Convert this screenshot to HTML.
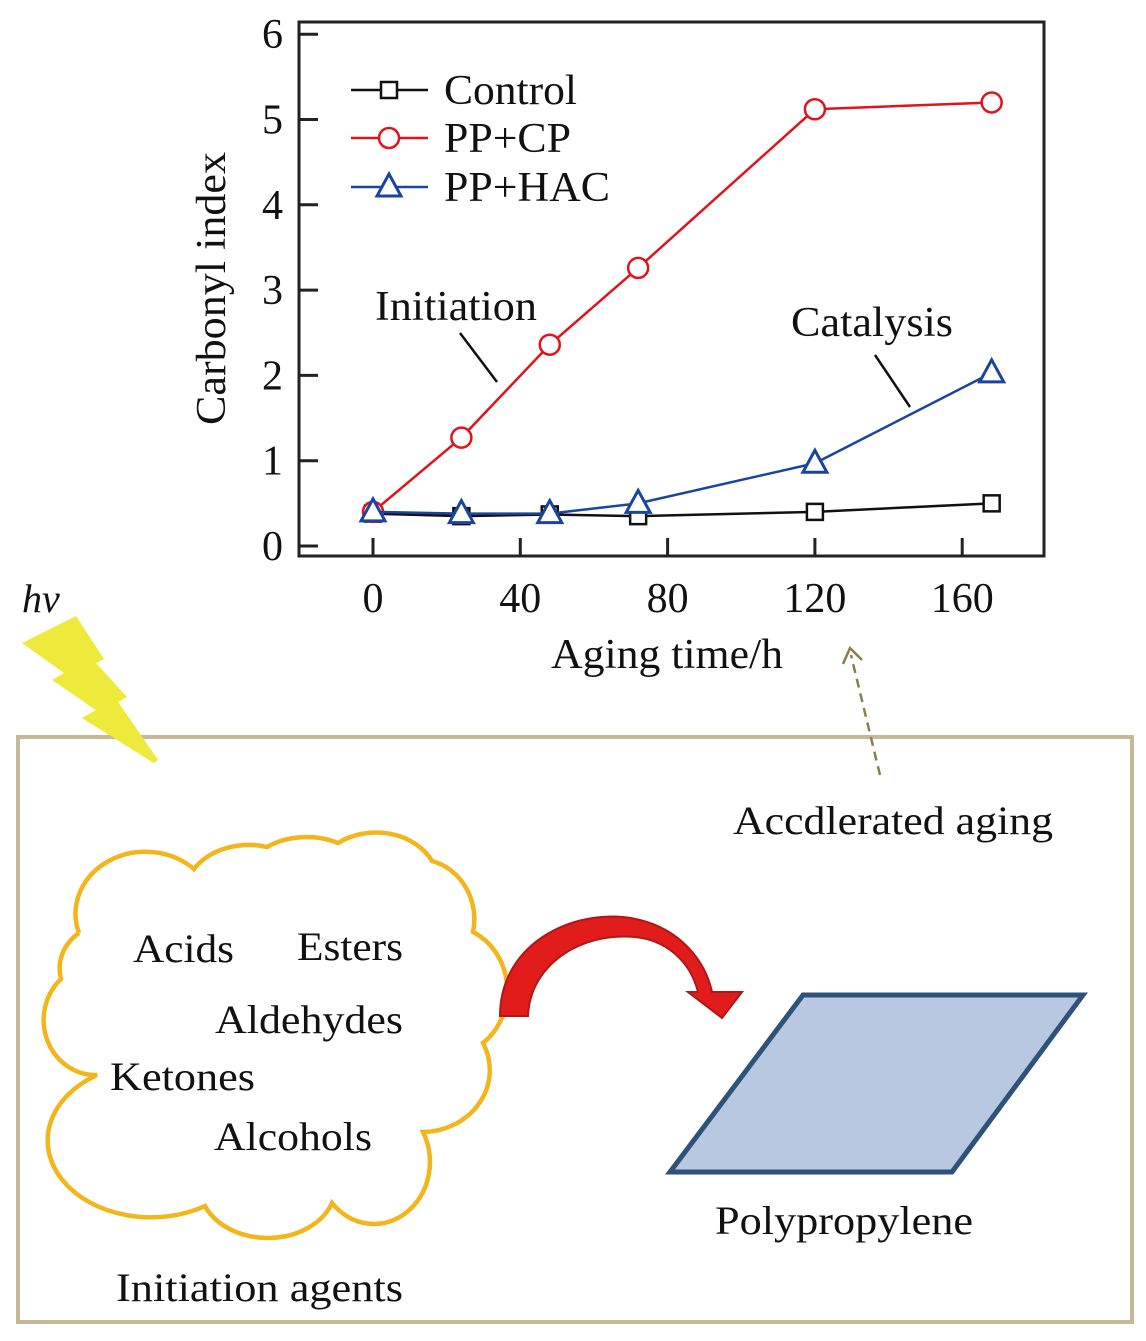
<!DOCTYPE html>
<html><head><meta charset="utf-8"><style>
body{margin:0;background:#fff}
svg text{font-family:"Liberation Serif",serif;fill:#111}
</style></head><body>
<svg width="1146" height="1336" viewBox="0 0 1146 1336" xmlns="http://www.w3.org/2000/svg">
<g id="chart"></g>
<polygon fill="#eeea3c" points="22,643 76,616 104,659 96,663 127,697 118,702 158,760 154,763 82,718 96,710 52,680 64,673"/>
<text x="22" y="612" font-size="40" font-style="italic">hv</text>
<rect x="18" y="737" width="1114" height="585" fill="none" stroke="#c4b994" stroke-width="4"/>
<polygon fill="#eeea3c" points="88,705 127,697 118,702 158,760 154,763 82,718 96,710"/>
<path fill="none" stroke="#f2b51c" stroke-width="4.5" d="M79,890 A70,62 0 0 1 194,826 A64,50 0 0 1 267,804 A60,40 0 0 1 338,800 A62,50 0 0 1 432,818 A56,60 0 0 1 473,889 A60,65 0 0 1 483,1000 A68,62 0 0 1 423,1089 A56,62 0 0 1 332,1160 A68,52 0 0 1 205,1163 A78,58 0 0 1 97,1032 A52,55 0 0 1 61,936 A50,45 0 0 1 79,890" transform="translate(0,43)"/>
<text x="133" y="962" font-size="40" textLength="101" lengthAdjust="spacingAndGlyphs">Acids</text>
<text x="297" y="960" font-size="40" textLength="106" lengthAdjust="spacingAndGlyphs">Esters</text>
<text x="215" y="1033" font-size="40" textLength="188" lengthAdjust="spacingAndGlyphs">Aldehydes</text>
<text x="110" y="1090" font-size="40" textLength="145" lengthAdjust="spacingAndGlyphs">Ketones</text>
<text x="214" y="1150" font-size="40" textLength="158" lengthAdjust="spacingAndGlyphs">Alcohols</text>
<text x="116" y="1301" font-size="40" textLength="287" lengthAdjust="spacingAndGlyphs">Initiation agents</text>
<path fill="#e21b1b" stroke="#b01818" stroke-width="2" d="M500,1016 C500,940 580,905 640,920 C680,930 705,960 712,992 L742,992 L722,1018 L688,992 L698,992 C690,960 665,940 635,937 C580,932 530,965 528,1016 Z"/>
<polygon fill="#b7c8e0" stroke="#2f5279" stroke-width="5" points="803,995 1083,995 952,1172 670,1172"/>
<text x="715" y="1234" font-size="40" textLength="258" lengthAdjust="spacingAndGlyphs">Polypropylene</text>
<line x1="880" y1="775" x2="851" y2="655" stroke="#8a7f4a" stroke-width="2.5" stroke-dasharray="9,6"/>
<polyline points="843,664 850,648 862,660" fill="none" stroke="#8a7f4a" stroke-width="2.5"/>
<text x="733" y="834" font-size="40" textLength="320" lengthAdjust="spacingAndGlyphs">Accdlerated aging</text>
</svg>
<script>
const hours = [0, 24, 48, 72, 120, 168];
const controlValues = [0.38, 0.35, 0.37, 0.35, 0.40, 0.50];
const cpValues = [0.40, 1.27, 2.36, 3.26, 5.12, 5.20];
const hacValues = [0.40, 0.38, 0.38, 0.50, 0.97, 2.03];
const xTicks = [0, 40, 80, 120, 160];
const yTicks = [0, 1, 2, 3, 4, 5, 6];

const NS = 'http://www.w3.org/2000/svg';
const g = document.getElementById('chart');
const X = h => 373 + (h / 40) * 147.3;
const Y = v => 546 - v * 85.3;
function mk(tag, attrs, parent) {
  const e = document.createElementNS(NS, tag);
  for (const k in attrs) e.setAttribute(k, attrs[k]);
  (parent || g).appendChild(e);
  return e;
}
let e = mk('rect', {x: 299, y: 22, width: 745, height: 534, fill: 'none', stroke: '#222', 'stroke-width': 3});


yTicks.forEach(v => {
  let t = mk('line', {x1: 299, x2: 318, y1: Y(v), y2: Y(v), stroke: '#222', 'stroke-width': 3});
  
  
  let l = mk('text', {x: 283, y: Y(v) + 14, 'font-size': 42, 'text-anchor': 'end'});
  l.textContent = v;
  
  
});
xTicks.forEach(v => {
  let t = mk('line', {x1: X(v), x2: X(v), y1: 556, y2: 538, stroke: '#222', 'stroke-width': 3});
  
  
  let l = mk('text', {x: X(v), y: 612, 'font-size': 42, 'text-anchor': 'middle'});
  l.textContent = v;
  
  
});
let xt = mk('text', {x: 551, y: 668, 'font-size': 42, textLength: 232, lengthAdjust: 'spacingAndGlyphs'});
xt.textContent = 'Aging time/h';


let yt = mk('text', {x: 0, y: 0, 'font-size': 42, textLength: 273, lengthAdjust: 'spacingAndGlyphs', transform: 'translate(225,425) rotate(-90)'});
yt.textContent = 'Carbonyl index';



function marker(type, cx, cy, color, parent) {
  let m;
  if (type === 'sq') m = mk('rect', {x: cx - 8, y: cy - 8, width: 16, height: 16, fill: '#fff', stroke: color, 'stroke-width': 2.5}, parent);
  else if (type === 'ci') m = mk('circle', {cx: cx, cy: cy, r: 10, fill: '#fff', stroke: color, 'stroke-width': 2.5}, parent);
  else m = mk('polygon', {points: `${cx},${cy - 13} ${cx - 12},${cy + 9} ${cx + 12},${cy + 9}`, fill: '#fff', stroke: color, 'stroke-width': 3}, parent);
  
  
  return m;
}
function series(vals, color, type, name) {
  const sg = mk('g', {});
  
  
  let p = mk('polyline', {points: vals.map((v, i) => X(hours[i]) + ',' + Y(v)).join(' '), fill: 'none', stroke: color, 'stroke-width': 2.5}, sg);
  
  
  vals.forEach((v, i) => marker(type, X(hours[i]), Y(v), color, sg));
}
series(controlValues, '#111', 'sq', 'control-series');
series(cpValues, '#e0141b', 'ci', 'pp-cp-series');
series(hacValues, '#1a44a0', 'tr', 'pp-hac-series');

const legend = [['Control', '#111', 'sq', 90, 133], ['PP+CP', '#e0141b', 'ci', 138, 127], ['PP+HAC', '#1a44a0', 'tr', 187, 166]];
legend.forEach(([lab, c, t, y, w]) => {
  const lg = mk('g', {});
  
  
  mk('line', {x1: 351, x2: 428, y1: y, y2: y, stroke: c, 'stroke-width': 2.5}, lg);
  marker(t, 389, y, c, lg);
  let tx = mk('text', {x: 444, y: y + 14, 'font-size': 42, textLength: w, lengthAdjust: 'spacingAndGlyphs'}, lg);
  tx.textContent = lab;
});
let a1 = mk('text', {x: 375, y: 320, 'font-size': 42, textLength: 162, lengthAdjust: 'spacingAndGlyphs'});
a1.textContent = 'Initiation';


let a1l = mk('line', {x1: 460, y1: 333, x2: 497, y2: 382, stroke: '#111', 'stroke-width': 2.5});


let a2 = mk('text', {x: 791, y: 336, 'font-size': 42, textLength: 162, lengthAdjust: 'spacingAndGlyphs'});
a2.textContent = 'Catalysis';


let a2l = mk('line', {x1: 875, y1: 355, x2: 910, y2: 407, stroke: '#111', 'stroke-width': 2.5});


</script>
</body></html>
